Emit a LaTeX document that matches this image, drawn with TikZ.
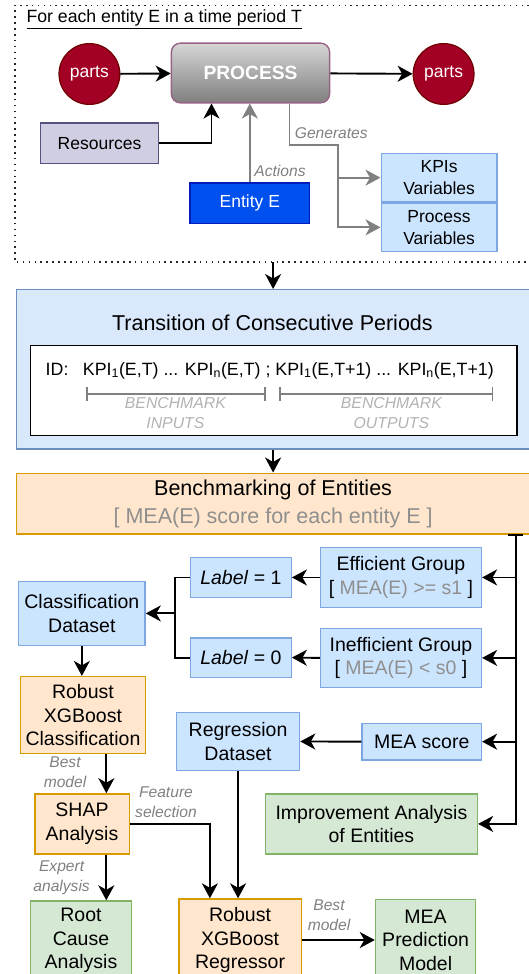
\documentclass[tikz,border=0pt]{standalone}
\usepackage{fontspec}
\setmainfont{Liberation Sans}
\usetikzlibrary{positioning, shapes, arrows.meta}
\definecolor{partsred}{HTML}{A20025}
\definecolor{partsline}{HTML}{6F0000}
\definecolor{proctop}{HTML}{D6D6D6}
\definecolor{procbot}{HTML}{7F7F7F}
\definecolor{procline}{HTML}{996185}
\definecolor{resfill}{HTML}{D0CEE2}
\definecolor{resline}{HTML}{56517E}
\definecolor{entfill}{HTML}{0050EF}
\definecolor{entline}{HTML}{001DBC}
\definecolor{ltblue}{HTML}{CCE5FF}
\definecolor{ltblueline}{HTML}{7EA6E0}
\definecolor{transfill}{HTML}{DAE8FC}
\definecolor{transline}{HTML}{6C8EBF}
\definecolor{orfill}{HTML}{FFE6CC}
\definecolor{orline}{HTML}{D79B00}
\definecolor{grfill}{HTML}{D5E8D4}
\definecolor{grline}{HTML}{82B366}
\definecolor{labgray}{HTML}{808080}
\definecolor{benchgray}{HTML}{B3B3B3}
\definecolor{subgray}{HTML}{8F8F8F}
\tikzset{
  box/.style={draw, rectangle, line width=1.4pt, inner sep=0pt, align=center},
  topfont/.style={font=\fontsize{17.5}{22}\selectfont},
  mainfont/.style={font=\fontsize{19.5}{23.5}\selectfont},
  bigfont/.style={font=\fontsize{21.5}{28}\selectfont},
  parts/.style={circle, draw=partsline, fill=partsred, line width=1.2pt, text=white, minimum size=60.8pt, inner sep=0pt, topfont},
  resbox/.style={box, fill=resfill, draw=resline, topfont},
  entbox/.style={box, fill=entfill, draw=entline, text=white, topfont},
  kpibox/.style={box, fill=ltblue, draw=ltblueline, topfont},
  bluebox/.style={box, fill=ltblue, draw=ltblueline, mainfont},
  orbox/.style={box, fill=orfill, draw=orline, mainfont},
  grbox/.style={box, fill=grfill, draw=grline, mainfont},
  lbl/.style={inner sep=0pt, align=center, text=labgray, font=\itshape\fontsize{15.6}{19.6}\selectfont},
  flow/.style={draw=black, line width=1.9pt, -{Stealth[length=15pt, width=16pt, inset=4.5pt]}},
  gflow/.style={flow, draw=labgray},
  line/.style={draw=black, line width=1.9pt},
  frame/.style={draw=black!85, line width=1.6pt, dash pattern=on 1.6pt off 4.3pt},
  span/.style={draw=labgray, line width=1.5pt, {Bar[width=13.4pt]}-{Bar[width=13.4pt]}}
}

\begin{document}
\begin{tikzpicture}[x=1pt, y=-1pt]
  \useasboundingbox (0,0) rectangle (529,974);
  \clip (0,0) rectangle (529,974);

  \draw[frame] (529,5.4) -- (14.8,5.4) -- (14.8,262) -- (529,262);
  \node[anchor=west, inner sep=0pt, font=\fontsize{17.7}{21}\selectfont] (ttl) at (26.3,19.2) {\underline{For each entity E in a time period T}};

  \node[parts] (pin) at (89.4,74) {parts};
  \node[box, rounded corners=9pt, top color=proctop, bottom color=procbot, draw=procline, text=white,
        minimum width=158.2pt, minimum height=59.7pt, font=\bfseries\fontsize{19.2}{22}\selectfont] (proc) at (250.5,73) {PROCESS};
  \node[parts] (pout) at (443.6,74) {parts};
  \node[resbox, minimum width=118.1pt, minimum height=40.5pt] (res) at (99.55,143.35) {Resources};
  \node[entbox, minimum width=119.7pt, minimum height=40.4pt] (ent) at (249.85,203.1) {Entity E};
  \node[kpibox, minimum width=115.8pt, minimum height=48.3pt] (kpi) at (439.1,177.65) {KPIs\\Variables};
  \node[kpibox, minimum width=115.8pt, minimum height=47.9pt] (pvar) at (439.1,227.35) {Process\\Variables};

  \draw[flow] (pin) -- (proc);
  \draw[flow] (proc) -- (pout);
  \draw[flow] (res.east) -| ([xshift=-39pt]proc.south);
  \draw[gflow] (ent.north) -- (ent.north |- proc.south);
  \coordinate (gsplit) at (338.4,145.1);
  \draw[gflow] ([xshift=39pt]proc.south) |- (gsplit) |- (kpi.west);
  \draw[gflow] (gsplit) |- (pvar.west);
  \node[lbl] (act) at (280,171.4) {Actions};
  \node[lbl] (gen) at (331.3,133.3) {Generates};

  \node[box, fill=transfill, draw=transline, minimum width=513.8pt, minimum height=159.2pt] (trans) at (273.1,369.3) {};
  \coordinate (fbot) at (273.1,262);
  \draw[flow] (fbot) -- (trans.north);
  \node[bigfont] (transttl) at (272.4,323.1) {Transition of Consecutive Periods};
  \node[box, draw=black, fill=white, line width=1.7pt, minimum width=486.3pt, minimum height=90pt] (ids) at (273.55,390.4) {};
  \node[anchor=base west, inner sep=0pt, font=\fontsize{17.8}{22}\selectfont] (idlbl) at (45.5,375) {ID:};
  \node[anchor=base west, inner sep=0pt, font=\fontsize{17.8}{22}\selectfont] (kpirow) at (82.7,375)
    {KPI\textsubscript{1}(E,T) ... KPI\textsubscript{n}(E,T) ; KPI\textsubscript{1}(E,T+1) ... KPI\textsubscript{n}(E,T+1)};
  \draw[span] (86,394) -- (265.5,394);
  \draw[span] (279.4,394) -- (493.3,394);
  \node[lbl, text=benchgray, font=\itshape\fontsize{15.8}{20.3}\selectfont] (bin) at (175.4,412.8) {BENCHMARK\\INPUTS};
  \node[lbl, text=benchgray, font=\itshape\fontsize{15.8}{20.3}\selectfont] (bout) at (391.4,412.8) {BENCHMARK\\OUTPUTS};

  \node[orbox, bigfont, minimum width=513.8pt, minimum height=60.8pt] (bench) at (273.1,503.6)
    {Benchmarking of Entities\\\textcolor{subgray}{[ MEA(E) score for each entity E ]}};
  \draw[flow] (trans.south) -- (bench.north);

  \node[bluebox, minimum width=160.9pt, minimum height=60.1pt] (eff) at (400.95,577.45)
    {Efficient Group\\{[} \textcolor{subgray}{MEA(E) >= s1} {]}};
  \node[bluebox, minimum width=100.6pt, minimum height=39.9pt] (lab1) at (240.9,577.45) {\textit{Label} = 1};
  \node[bluebox, minimum width=160.9pt, minimum height=59pt] (ineff) at (400.95,657.9)
    {Inefficient Group\\{[} \textcolor{subgray}{MEA(E) < s0} {]}};
  \node[bluebox, minimum width=100.6pt, minimum height=39.5pt] (lab0) at (240.9,657.55) {\textit{Label} = 0};
  \node[bluebox, minimum width=126.5pt, minimum height=63.8pt] (cls) at (81.85,613.4) {Classification\\Dataset};
  \node[orbox, minimum width=125.5pt, minimum height=76.9pt] (xgbc) at (82.95,715.05) {Robust\\XGBoost\\Classification};
  \node[bluebox, minimum width=123.1pt, minimum height=57.5pt] (reg) at (238.05,741.45) {Regression\\Dataset};
  \node[bluebox, minimum width=119.4pt, minimum height=36.9pt] (mea) at (421.7,741.65) {MEA score};
  \node[orbox, minimum width=94.4pt, minimum height=60pt] (shap) at (82,823.9) {SHAP\\Analysis};
  \node[grbox, minimum width=211.9pt, minimum height=60pt] (imp) at (371.45,823.9) {Improvement Analysis\\of Entities};
  \node[grbox, minimum width=101.2pt, minimum height=79pt] (root) at (81,940.5) {Root\\Cause\\Analysis};
  \node[orbox, minimum width=122.5pt, minimum height=82pt] (xgbr) at (240.05,940) {Robust\\XGBoost\\Regressor};
  \node[grbox, minimum width=100.2pt, minimum height=81pt] (pred) at (425.6,940) {MEA\\Prediction\\Model};

  \coordinate (bus) at (515.7,534);
  \draw[flow, {Bar[width=15pt]}-{Stealth[length=15pt, width=16pt, inset=4.5pt]}] (bus) |- (imp.east);
  \draw[flow] (bus) |- (eff.east);
  \draw[flow] (bus) |- (ineff.east);
  \draw[flow] (bus) |- (mea.east);
  \draw[flow] (eff.west) -- (lab1.east);
  \draw[flow] (ineff.west) -- (lab0.east);
  \coordinate (junc) at (174.8,613.4);
  \draw[line] (lab1.west) -| (junc);
  \draw[line] (lab0.west) -| (junc);
  \draw[flow] (junc) -- (cls.east);
  \draw[flow] (cls.south) -- (cls.south |- xgbc.north);
  \draw[flow] (mea.west) -- (reg.east);
  \draw[flow] ([xshift=23.4pt]xgbc.south) -- ([xshift=23.4pt]xgbc.south |- shap.north);
  \node[lbl] (bm1) at (65,772.3) {Best\\model};
  \draw[flow] ([xshift=24.3pt]shap.south) -- ([xshift=24.3pt]shap.south |- root.north);
  \node[lbl] (expert) at (61.6,877.9) {Expert\\analysis};
  \draw[flow] (shap.east) -| ([xshift=-30.15pt]xgbr.north);
  \node[lbl] (fsel) at (166,802) {Feature\\selection};
  \draw[flow] (reg.south) -- (reg.south |- xgbr.north);
  \draw[flow] (xgbr.east) -- (pred.west);
  \node[lbl] (bm2) at (329,915) {Best\\model};
\end{tikzpicture}
\end{document}
